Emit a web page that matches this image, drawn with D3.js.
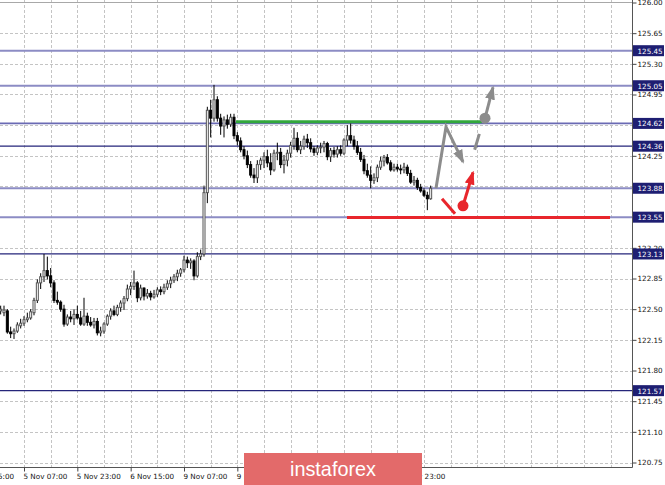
<!DOCTYPE html>
<html><head><meta charset="utf-8">
<script src="https://cdn.jsdelivr.net/npm/d3@7"></script>
<style>html,body{margin:0;padding:0;background:#fff;overflow:hidden}svg{display:block}</style>
</head><body><svg id="c" width="665" height="485"></svg>
<script>
const opens = [
122.48,122.46,122.48,122.24,122.22,122.25,122.31,122.34,122.38,122.40,
122.46,122.60,122.80,122.87,122.94,122.88,122.80,122.60,122.58,122.50,
122.33,122.41,122.39,122.44,122.40,122.33,122.42,122.35,122.32,122.36,
122.23,122.25,122.33,122.42,122.48,122.44,122.52,122.57,122.62,122.73,
122.76,122.80,122.63,122.74,122.65,122.68,122.64,122.67,122.72,122.70,
122.75,122.79,122.83,122.87,122.91,122.95,123.06,123.03,123.05,122.88,
123.10,123.13,123.83,124.77,124.68,124.89,124.68,124.59,124.66,124.61,
124.69,124.48,124.42,124.32,124.25,124.15,124.03,124.00,124.15,124.20,
124.24,124.17,124.09,124.28,124.29,124.15,124.20,124.28,124.37,124.45,
124.32,124.36,124.44,124.40,124.33,124.29,124.34,124.35,124.39,124.24,
124.31,124.27,124.32,124.28,124.43,124.48,124.43,124.36,124.29,124.21,
124.08,124.03,123.97,124.00,124.12,124.19,124.23,124.17,124.09,124.12,
124.10,124.09,124.12,124.05,123.95,123.97,123.89,123.85,123.80,123.76];
const highs = [
122.54,122.54,122.50,122.30,122.28,122.35,122.39,122.42,122.46,122.50,
122.63,122.84,122.91,123.13,123.10,122.97,122.83,122.70,122.60,122.55,
122.44,122.48,122.50,122.54,122.48,122.63,122.46,122.41,122.40,122.40,
122.30,122.35,122.44,122.51,122.54,122.55,122.60,122.65,122.78,122.81,
122.94,122.82,122.78,122.75,122.73,122.71,122.72,122.75,122.76,122.79,
122.83,122.87,122.90,122.95,122.97,123.11,123.10,123.08,123.07,123.15,
123.18,123.91,124.81,124.89,125.06,124.93,124.73,124.70,124.72,124.73,
124.73,124.52,124.46,124.36,124.31,124.19,124.11,124.20,124.23,124.29,
124.32,124.28,124.32,124.40,124.34,124.26,124.32,124.41,124.57,124.52,
124.42,124.48,124.50,124.45,124.36,124.37,124.40,124.42,124.41,124.34,
124.35,124.36,124.37,124.45,124.60,124.62,124.48,124.42,124.34,124.26,
124.16,124.13,124.05,124.15,124.24,124.26,124.27,124.20,124.16,124.16,
124.15,124.17,124.15,124.09,124.02,124.00,123.93,123.88,123.84,123.91];
const lows = [
122.44,122.42,122.22,122.17,122.16,122.23,122.28,122.31,122.35,122.38,
122.43,122.57,122.73,122.81,122.84,122.75,122.57,122.55,122.47,122.30,
122.31,122.35,122.32,122.38,122.31,122.31,122.31,122.30,122.28,122.20,
122.19,122.22,122.31,122.38,122.42,122.42,122.47,122.49,122.59,122.66,
122.72,122.58,122.60,122.60,122.62,122.60,122.62,122.64,122.66,122.67,
122.72,122.74,122.80,122.82,122.87,122.92,122.97,122.96,122.83,122.86,
123.06,123.10,123.71,124.46,124.64,124.64,124.49,124.46,124.56,124.58,
124.44,124.37,124.29,124.21,124.11,124.00,123.94,123.94,124.09,124.11,
124.12,124.03,124.07,124.20,124.11,124.05,124.13,124.23,124.32,124.29,
124.27,124.32,124.34,124.29,124.25,124.26,124.28,124.29,124.20,124.18,
124.23,124.23,124.25,124.26,124.36,124.39,124.32,124.26,124.18,124.04,
124.00,123.88,123.93,123.95,124.09,124.13,124.15,124.07,124.07,124.07,
124.04,124.05,124.02,123.93,123.91,123.86,123.83,123.78,123.63,123.75];
const closes = [
122.50,122.49,122.24,122.22,122.25,122.32,122.34,122.38,122.40,122.47,
122.60,122.80,122.87,122.94,122.88,122.80,122.60,122.58,122.50,122.33,
122.41,122.39,122.44,122.40,122.33,122.42,122.35,122.32,122.36,122.23,
122.25,122.33,122.42,122.48,122.44,122.52,122.57,122.62,122.73,122.76,
122.80,122.63,122.74,122.65,122.68,122.64,122.67,122.72,122.70,122.75,
122.79,122.83,122.87,122.91,122.95,123.06,123.03,123.05,122.88,123.10,
123.13,123.83,124.77,124.68,124.89,124.68,124.59,124.66,124.61,124.69,
124.48,124.42,124.32,124.25,124.15,124.03,124.00,124.15,124.20,124.24,
124.17,124.09,124.28,124.29,124.15,124.20,124.28,124.37,124.45,124.32,
124.36,124.44,124.40,124.33,124.29,124.34,124.35,124.39,124.24,124.31,
124.27,124.32,124.28,124.43,124.48,124.43,124.36,124.29,124.21,124.08,
124.03,123.97,124.00,124.12,124.19,124.23,124.17,124.09,124.12,124.10,
124.09,124.12,124.05,123.95,123.97,123.89,123.85,123.80,123.76,123.88];

const xTickBars = [-9, 7, 23, 39, 55, 71, 87, 103, 119];
const xTickLabels = ["4 Nov 15:00","5 Nov 07:00","5 Nov 23:00","6 Nov 15:00","9 Nov 07:00","9 Nov 23:00","10 Nov 15:00","11 Nov 07:00","11 Nov 23:00"];
const yTicks = [126.00,125.65,125.30,124.95,124.60,124.25,123.90,123.55,123.20,122.85,122.50,122.15,121.80,121.45,121.10,120.75];
const levels = [125.45,125.05,124.62,124.36,123.88,123.55,123.13,121.57];
const levelTone = ["light","light","mid","dark","light","light","dark","dark"];

// annotations in (bar, price)
const greenSeg = [[70.6,124.64],[144.4,124.64]];
const redSeg = [[103.9,123.545],[182.8,123.545]];
const grayZigzag = [[130.6,123.88],[133.6,124.58],[138.7,124.18]];
const grayDash = [[142.2,124.32],[143.6,124.50]];
const grayDot = [145.3,124.68];
const grayUp = [[145.3,124.68],[147.7,125.03]];
const redSlash = [[132.4,123.76],[136.3,123.59]];
const redDot = [138.7,123.68];
const redUp = [[138.7,123.68],[141.7,124.06]];
const watermark = "instaforex";

const W = 665, H = 485, axisX = 632, axisY = 467;
const svg = d3.select("#c");
const x = d3.scaleLinear().domain([-0.2, 189.4]).range([0, axisX]);
const y = d3.scaleLinear().domain([120.75, 126]).range([462.5, 2.5]);
const FONT = "DejaVu Sans";

const defs = svg.append("defs");
defs.append("clipPath").attr("id","plot").append("rect").attr("x",0).attr("y",0).attr("width",axisX).attr("height",axisY);
function marker(id, color){
  defs.append("marker").attr("id",id).attr("viewBox","0 0 14 10").attr("refX",12).attr("refY",5)
    .attr("markerWidth",14).attr("markerHeight",10).attr("markerUnits","userSpaceOnUse").attr("orient","auto")
    .append("path").attr("d","M0,0 L14,5 L0,10 Z").attr("fill",color);
}
marker("agray","#8c8c8c"); marker("ared","#e8262c");

const plot = svg.append("g").attr("clip-path","url(#plot)");

// grid
const vBars = d3.range(7, 190, 8);
plot.append("g").selectAll("line").data(vBars).join("line")
  .attr("x1",d=>Math.round(x(d))+0.5).attr("x2",d=>Math.round(x(d))+0.5)
  .attr("y1",0).attr("y2",axisY).attr("stroke","#c4c4c4").attr("stroke-dasharray","3,2");
plot.append("g").selectAll("line").data(yTicks.slice(1)).join("line")
  .attr("x1",0).attr("x2",axisX).attr("y1",d=>Math.round(y(d))+0.5).attr("y2",d=>Math.round(y(d))+0.5)
  .attr("stroke","#c4c4c4").attr("stroke-dasharray","3,2");
svg.append("line").attr("x1",0).attr("x2",axisX).attr("y1",2.5).attr("y2",2.5).attr("stroke","#a8a8a8");

// level lines
const toneColor = {light:"#8c8cc4", mid:"#6a6ab4", dark:"#25257a"};
const toneWidth = {light:2, mid:1.6, dark:1.3};
plot.append("g").selectAll("line").data(levels).join("line")
  .attr("x1",0).attr("x2",axisX).attr("y1",d=>y(d)).attr("y2",d=>y(d))
  .attr("stroke",(d,i)=>toneColor[levelTone[i]]).attr("stroke-width",(d,i)=>toneWidth[levelTone[i]]);

// candles
const idx = d3.range(closes.length);
plot.append("g").selectAll("line").data(idx).join("line")
  .attr("x1",i=>x(i)).attr("x2",i=>x(i)).attr("y1",i=>y(highs[i])).attr("y2",i=>y(lows[i]))
  .attr("stroke","#000").attr("stroke-width",1);
plot.append("g").selectAll("rect").data(idx).join("rect")
  .attr("x",i=>x(i)-1).attr("width",2)
  .attr("y",i=>y(Math.max(opens[i],closes[i])))
  .attr("height",i=>Math.max(0.5, Math.abs(y(opens[i])-y(closes[i]))))
  .attr("fill",i=>closes[i]>=opens[i]?"#fff":"#000")
  .attr("stroke",i=>closes[i]>=opens[i]?"#555":"#000").attr("stroke-width",1);

// annotations
const line = d3.line().x(d=>x(d[0])).y(d=>y(d[1]));
plot.append("path").attr("d",line(greenSeg)).attr("stroke","#32a83c").attr("stroke-width",3).attr("fill","none");
plot.append("path").attr("d",line(redSeg)).attr("stroke","#e8262c").attr("stroke-width",3).attr("fill","none");
plot.append("path").attr("d",line(grayZigzag)).attr("stroke","#8c8c8c").attr("stroke-width",3).attr("fill","none")
  .attr("stroke-linejoin","miter").attr("marker-end","url(#agray)");
plot.append("path").attr("d",line(grayDash)).attr("stroke","#8c8c8c").attr("stroke-width",3).attr("fill","none");
plot.append("path").attr("d",line(grayUp)).attr("stroke","#8c8c8c").attr("stroke-width",3).attr("fill","none").attr("marker-end","url(#agray)");
plot.append("circle").attr("cx",x(grayDot[0])).attr("cy",y(grayDot[1])).attr("r",5.5).attr("fill","#8c8c8c");
plot.append("path").attr("d",line(redSlash)).attr("stroke","#e8262c").attr("stroke-width",3).attr("fill","none");
plot.append("path").attr("d",line(redUp)).attr("stroke","#e8262c").attr("stroke-width",3).attr("fill","none").attr("marker-end","url(#ared)");
plot.append("circle").attr("cx",x(redDot[0])).attr("cy",y(redDot[1])).attr("r",5.5).attr("fill","#e8262c");

// frame
svg.append("line").attr("x1",axisX+0.5).attr("x2",axisX+0.5).attr("y1",0).attr("y2",axisY+0.5).attr("stroke","#555");
svg.append("line").attr("x1",0).attr("x2",axisX+0.5).attr("y1",axisY+0.5).attr("y2",axisY+0.5).attr("stroke","#555");

// y axis
const yAxis = d3.axisRight(y).tickValues(yTicks).tickSize(4).tickPadding(1).tickFormat(d3.format(".2f"));
const gy = svg.append("g").attr("transform",`translate(${axisX+0.5},0)`).call(yAxis);
gy.select(".domain").remove();
gy.selectAll("line").attr("stroke","#444");
gy.selectAll("text").attr("font-family",FONT).attr("font-size",7.2).attr("fill","#111");

// level labels
const lab = svg.append("g").selectAll("g").data(levels).join("g").attr("transform",d=>`translate(${axisX+1},${y(d)})`);
lab.append("rect").attr("x",0).attr("y",-5.5).attr("width",31).attr("height",11).attr("fill","#1e1e72");
lab.append("text").attr("x",4.5).attr("y",3).attr("font-family",FONT).attr("font-size",7.2).attr("fill","#fff").text(d=>d.toFixed(2));

// x axis
const xAxis = d3.axisBottom(x).tickValues(xTickBars).tickSize(4).tickFormat((d,i)=>xTickLabels[i]);
const gx = svg.append("g").attr("transform",`translate(0,${axisY+0.5})`).call(xAxis);
gx.select(".domain").remove();
gx.selectAll("line").attr("stroke","#444");
gx.selectAll("text").attr("text-anchor","start").attr("dx",-1).attr("y",6).attr("font-family",FONT).attr("font-size",7.2).attr("fill","#111");

// watermark
svg.append("rect").attr("x",244).attr("y",453).attr("width",178).attr("height",32).attr("fill","#e36a6a");
svg.append("text").attr("x",333).attr("y",476).attr("text-anchor","middle").attr("font-family","Liberation Sans")
  .attr("font-size",21).attr("textLength",86).attr("lengthAdjust","spacingAndGlyphs").attr("fill","#fff").text(watermark);
</script></body></html>
